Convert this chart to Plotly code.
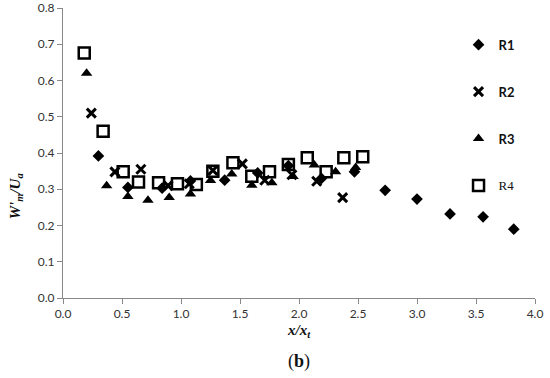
import plotly.graph_objects as go

r1_x = [0.30, 0.55, 0.84, 1.08, 1.37, 1.65, 1.91, 2.19, 2.47, 2.73, 3.00, 3.28, 3.56, 3.82]
r1_y = [0.392, 0.305, 0.303, 0.323, 0.325, 0.345, 0.365, 0.330, 0.348, 0.297, 0.273, 0.232, 0.224, 0.190]

r2_x = [0.24, 0.44, 0.66, 0.89, 1.07, 1.27, 1.52, 1.71, 1.94, 2.15, 2.37]
r2_y = [0.510, 0.348, 0.355, 0.310, 0.315, 0.352, 0.370, 0.325, 0.340, 0.322, 0.277]

r3_x = [0.20, 0.37, 0.55, 0.72, 0.90, 1.08, 1.25, 1.43, 1.60, 1.77, 1.95, 2.13, 2.31, 2.48]
r3_y = [0.620, 0.310, 0.280, 0.270, 0.277, 0.287, 0.324, 0.342, 0.311, 0.318, 0.335, 0.367, 0.348, 0.360]

r4_x = [0.18, 0.34, 0.51, 0.64, 0.81, 0.97, 1.13, 1.27, 1.44, 1.60, 1.75, 1.91, 2.07, 2.23, 2.38, 2.54]
r4_y = [0.676, 0.460, 0.348, 0.320, 0.318, 0.315, 0.313, 0.350, 0.373, 0.336, 0.348, 0.368, 0.387, 0.348, 0.387, 0.390]

x_ticks = [0.0, 0.5, 1.0, 1.5, 2.0, 2.5, 3.0, 3.5, 4.0]
y_ticks = [0.0, 0.1, 0.2, 0.3, 0.4, 0.5, 0.6, 0.7, 0.8]

fig = go.Figure()
fig.add_trace(go.Scatter(x=r1_x, y=r1_y, mode="markers", name="<b>R1</b>", legendgroup="g1",
                         marker=dict(symbol="diamond", size=9, color="black")))
fig.add_trace(go.Scatter(x=r2_x, y=r2_y, mode="markers", name="<b>R2</b>", legendgroup="g2",
                         marker=dict(symbol="x-thin-open", size=9, color="black",
                                     line=dict(width=3, color="black"))))
fig.add_trace(go.Scatter(x=r3_x, y=r3_y, mode="markers", name="<b>R3</b>", legendgroup="g3",
                         marker=dict(symbol="triangle-up", size=10, color="black")))
fig.add_trace(go.Scatter(x=r4_x, y=r4_y, mode="markers", name="<span style='font-family:Liberation Serif'>R4</span>",
                         legendgroup="g4",
                         marker=dict(symbol="square-open", size=11, color="black", line=dict(width=2.5, color="black"))))

fig.update_layout(
    width=550, height=378,
    margin=dict(l=63, r=15, t=8, b=80, autoexpand=False),
    plot_bgcolor="white", paper_bgcolor="white",
    font=dict(family="Lato, Open Sans, sans-serif", size=12, color="#222"),
    showlegend=True,
    legend=dict(x=0.838, y=0.925, xanchor="left", yanchor="top", tracegroupgap=27,
                bgcolor="rgba(0,0,0,0)", font=dict(size=13, color="#111"), itemwidth=30),
    xaxis=dict(range=[0, 4.0], tickvals=x_ticks, ticktext=[f"{v:.1f}" for v in x_ticks],
               showline=True, linecolor="#888", linewidth=1, ticks="outside", ticklen=5,
               tickcolor="#888", showgrid=False, zeroline=False, automargin=False,
               tickfont=dict(size=12, color="#333")),
    yaxis=dict(range=[0, 0.8], tickvals=y_ticks, ticktext=[f"{v:.1f}" for v in y_ticks],
               showline=True, linecolor="#888", linewidth=1, ticks="outside", ticklen=5,
               tickcolor="#888", showgrid=False, zeroline=False, automargin=False,
               tickfont=dict(size=12, color="#333")),
    annotations=[
        dict(text="<b><i>W'</i></b><sub><b><i>m</i></b></sub><b><i>/U</i></b><sub><b><i>a</i></b></sub>",
             xref="paper", yref="paper", x=-0.1, y=0.35, xanchor="center", yanchor="middle",
             textangle=-90, showarrow=False,
             font=dict(family="Liberation Serif, serif", size=15, color="#111")),
        dict(text="<b><i>x/x</i></b><sub><b><i>t</i></b></sub>",
             xref="paper", yref="paper", x=0.5, y=-0.075, xanchor="center", yanchor="top",
             showarrow=False, font=dict(family="Liberation Serif, serif", size=15, color="#111")),
        dict(text="(<b>b</b>)",
             xref="paper", yref="paper", x=0.5, y=-0.175, xanchor="center", yanchor="top",
             showarrow=False, font=dict(family="Liberation Serif, serif", size=18, color="#111")),
    ],
)

fig.write_html("out.html", config={"displayModeBar": False},
               post_script="document.body.style.margin='0';document.body.style.padding='0';")
